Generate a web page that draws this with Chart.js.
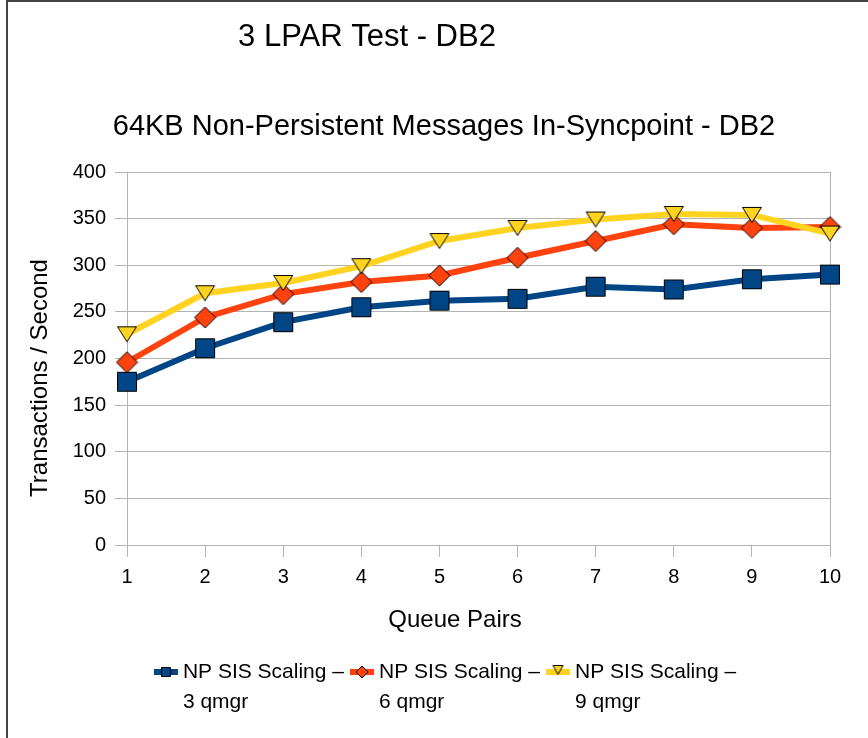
<!DOCTYPE html>
<html><head><meta charset="utf-8">
<script src="https://cdn.jsdelivr.net/npm/chart.js@4"></script>
<style>
html,body{margin:0;padding:0;background:#fff;}
#wrap{position:relative;width:868px;height:738px;overflow:hidden;background:#fff;}
#frame{position:absolute;left:6px;top:0;width:900px;height:800px;border-left:2px solid #444;border-top:2px solid #444;box-sizing:border-box;pointer-events:none;}
canvas{position:absolute;left:0;top:0;}
</style></head><body>
<div id="wrap"><canvas id="c" width="868" height="738"></canvas><div id="frame"></div></div>
<script>
const chartTitle = '3 LPAR Test - DB2';
const chartSubtitle = '64KB Non-Persistent Messages In-Syncpoint - DB2';
const xTitle = 'Queue Pairs';
const yTitle = 'Transactions / Second';
const categories = ['1', '2', '3', '4', '5', '6', '7', '8', '9', '10'];
const seriesLabels = [['NP SIS Scaling –', '3 qmgr'], ['NP SIS Scaling –', '6 qmgr'], ['NP SIS Scaling –', '9 qmgr']];
const qmgr3 = [175, 211, 239, 255, 262, 264, 277, 274, 285, 290];
const qmgr6 = [196, 244, 269, 282, 289, 308, 326, 344, 340, 341];
const qmgr9 = [226, 270, 281, 299, 326, 340, 349, 355, 354, 334];
const yMin = 0, yMax = 400, yStep = 50;

const FONT = '"Liberation Sans", Arial, sans-serif';
const COLORS = ['#004586', '#ff420e', '#ffd320'];

function marker(shape, fill, w, h) {
  const c = document.createElement('canvas');
  c.width = w + 2; c.height = h + 2;
  const g = c.getContext('2d');
  g.fillStyle = fill; g.strokeStyle = '#000'; g.lineWidth = 1;
  g.beginPath();
  if (shape === 'square') g.rect(1.5, 1.5, w - 1, h - 1);
  else if (shape === 'diamond') { g.moveTo(1 + w / 2, 1); g.lineTo(1 + w, 1 + h / 2); g.lineTo(1 + w / 2, 1 + h); g.lineTo(1, 1 + h / 2); g.closePath(); }
  else { g.moveTo(1.5, 1.5); g.lineTo(w + 0.5, 1.5); g.lineTo(1 + w / 2, h + 0.5); g.closePath(); }
  g.fill(); g.stroke();
  return c;
}
function swatch(shape, fill, mw, mh, dy) {
  const c = document.createElement('canvas');
  c.width = 26; c.height = 16;
  const g = c.getContext('2d');
  g.fillStyle = fill;
  g.fillRect(1, 5, 24, 6);
  const m = marker(shape, fill, mw, mh);
  g.drawImage(m, 13 - m.width / 2, 8 - m.height / 2 + dy);
  return c;
}

const pointImgs = [marker('square', COLORS[0], 20, 20), marker('diamond', COLORS[1], 21, 21), marker('tri', COLORS[2], 20, 16)];
const legendImgs = [swatch('square', COLORS[0], 10, 10, 0), swatch('diamond', COLORS[1], 12, 12, 0), swatch('tri', COLORS[2], 11, 10, -2)];

const textPlugin = {
  id: 'texts',
  afterDraw(chart) {
    const ctx = chart.ctx;
    ctx.save();
    ctx.fillStyle = '#000';
    ctx.textAlign = 'center';
    ctx.textBaseline = 'middle';
    ctx.font = '31px ' + FONT;
    ctx.fillText(chartTitle, 367, 37);
    ctx.font = '29px ' + FONT;
    ctx.fillText(chartSubtitle, 444, 127);
    ctx.font = '24px ' + FONT;
    ctx.fillText(xTitle, 455, 620);
    ctx.save();
    ctx.translate(40, 378);
    ctx.rotate(-Math.PI / 2);
    ctx.fillText(yTitle, 0, 0);
    ctx.restore();
    // legend
    ctx.font = '21px ' + FONT;
    ctx.textAlign = 'left';
    const gap = 5, itemGap = 6, sw = 24;
    const widths = chart.data.datasets.map(d => Math.max(...d.label.map(t => ctx.measureText(t).width)));
    const total = widths.reduce((a, b) => a + b, 0) + widths.length * (sw + gap) + (widths.length - 1) * itemGap;
    let x = 445 - total / 2;
    const y1 = 672, lh = 30;
    chart.data.datasets.forEach((d, i) => {
      const img = legendImgs[i];
      ctx.drawImage(img, x + sw / 2 - img.width / 2, y1 - img.height / 2);
      d.label.forEach((t, k) => ctx.fillText(t, x + sw + gap, y1 + k * lh));
      x += sw + gap + widths[i] + itemGap;
    });
    ctx.restore();
  }
};

const datasets = [qmgr3, qmgr6, qmgr9].map((vals, i) => ({
  label: seriesLabels[i],
  data: vals,
  borderColor: COLORS[i],
  backgroundColor: COLORS[i],
  borderWidth: 6,
  pointStyle: pointImgs[i],
  pointRadius: 10,
  tension: 0,
  order: 3 - i
}));

new Chart(document.getElementById('c'), {
  type: 'line',
  data: { labels: categories, datasets },
  options: {
    responsive: false,
    animation: false,
    devicePixelRatio: 1,
    layout: { padding: { left: 8, right: 38, top: 172, bottom: 0 } },
    plugins: { legend: { display: false }, title: { display: false }, tooltip: { enabled: false } },
    scales: {
      x: {
        type: 'category',
        offset: false,
        afterFit(s) { s.height = 193; },
        grid: {
          color: ctx => (ctx.index === categories.length - 1 ? '#b3b3b3' : 'rgba(0,0,0,0)'),
          tickColor: '#b3b3b3',
          tickLength: 12,
          lineWidth: 1
        },
        border: { display: true, color: '#b3b3b3', width: 1 },
        ticks: { color: '#000', font: { family: FONT, size: 20 }, padding: 8, maxRotation: 0, autoSkip: false }
      },
      y: {
        min: yMin, max: yMax,
        afterFit(s) { s.width = 119; },
        grid: { color: '#b3b3b3', tickColor: '#b3b3b3', tickLength: 12, lineWidth: 1 },
        border: { display: true, color: '#b3b3b3', width: 1 },
        ticks: { stepSize: yStep, color: '#000', font: { family: FONT, size: 20 }, padding: 9 }
      }
    }
  },
  plugins: [textPlugin]
});
</script>
</body></html>
